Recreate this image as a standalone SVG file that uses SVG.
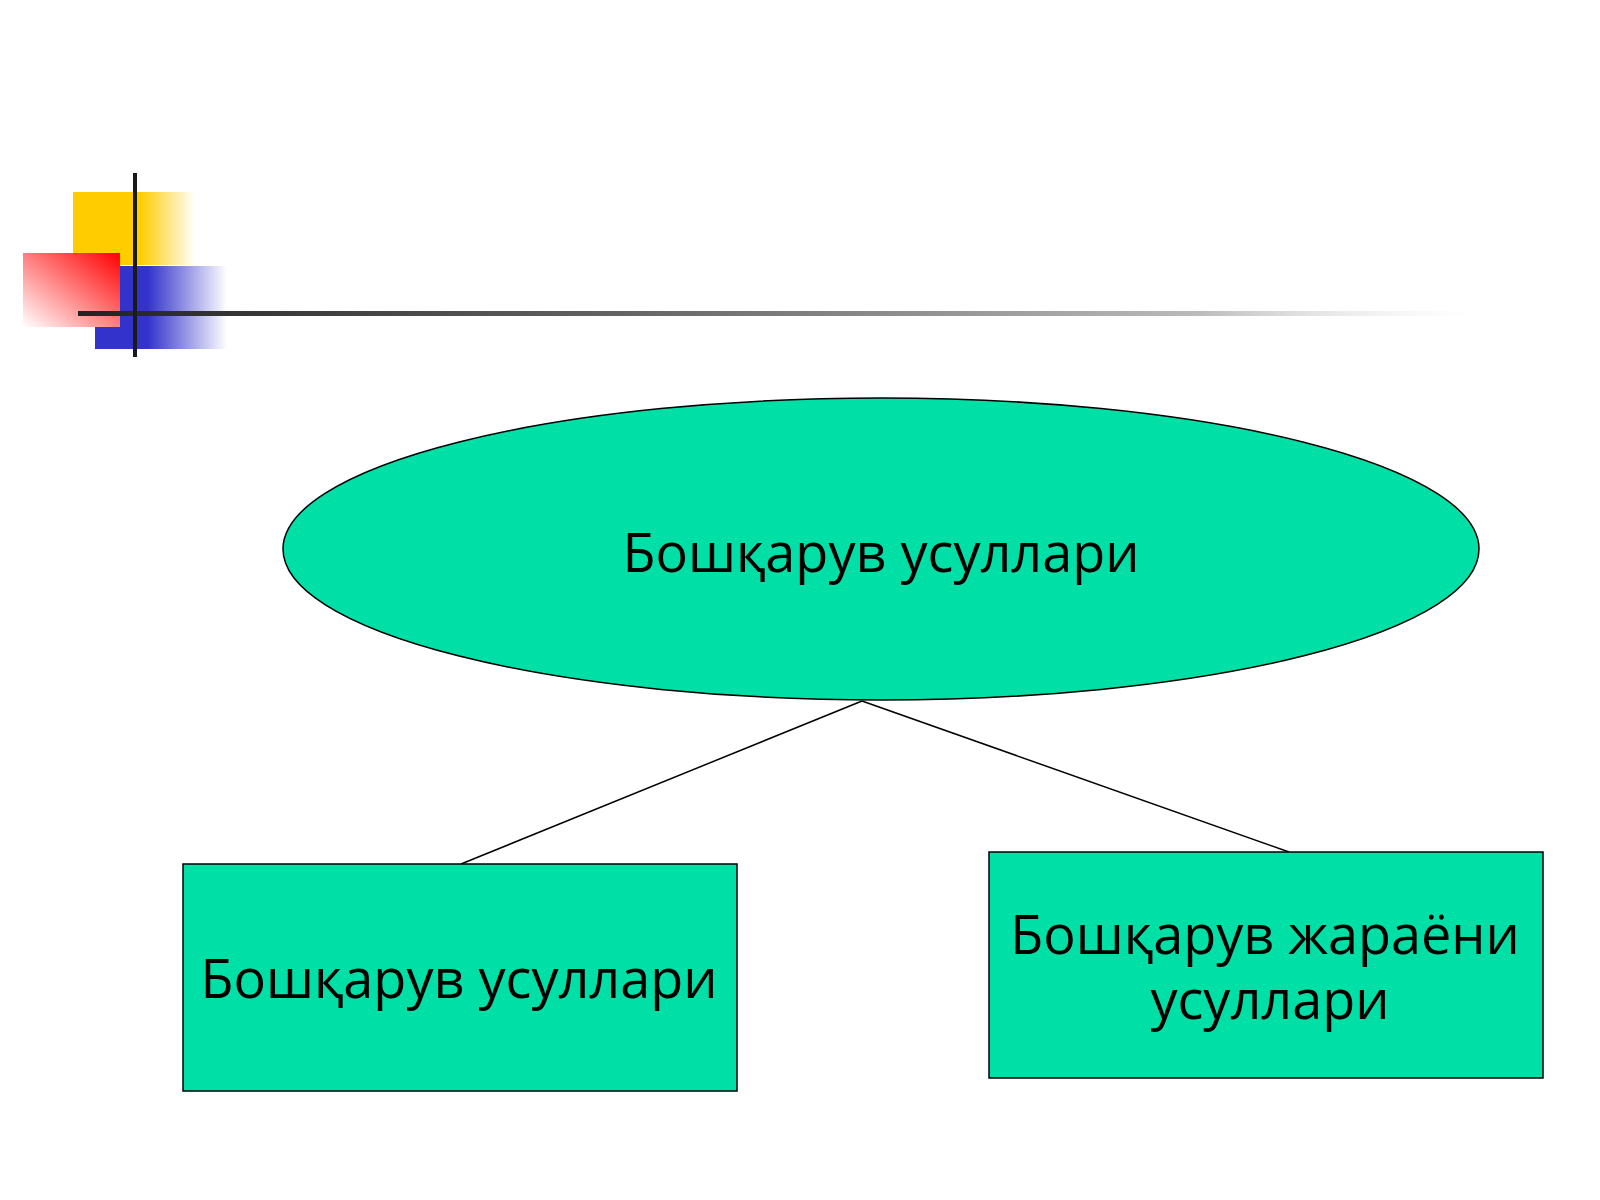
<svg xmlns="http://www.w3.org/2000/svg" width="1600" height="1200" viewBox="0 0 1600 1200">
<style>
.shape{fill:#00E0A6;stroke:#000;stroke-width:1.5}
.lbl{font-family:"Open Sans","Noto Sans","DejaVu Sans",sans-serif;font-size:54px;fill:#000}
.conn{stroke:#000;stroke-width:1.5;fill:none}
</style>
<defs>
<linearGradient id="gY" x1="0" y1="0" x2="1" y2="0">
<stop offset="0" stop-color="#FFCC00"/><stop offset="0.55" stop-color="#FFCC00"/><stop offset="1" stop-color="#FFCC00" stop-opacity="0"/>
</linearGradient>
<linearGradient id="gR" x1="1" y1="0" x2="0" y2="1">
<stop offset="0" stop-color="#FF0000"/><stop offset="1" stop-color="#FFFFFF"/>
</linearGradient>
<linearGradient id="gB" x1="0" y1="0" x2="1" y2="0">
<stop offset="0" stop-color="#3333CC"/><stop offset="0.4" stop-color="#3333CC"/><stop offset="1" stop-color="#3333CC" stop-opacity="0"/>
</linearGradient>
<linearGradient id="gL" x1="0" y1="0" x2="1" y2="0">
<stop offset="0" stop-color="#222"/><stop offset="0.4" stop-color="#666"/><stop offset="0.8" stop-color="#bbb"/><stop offset="1" stop-color="#eee" stop-opacity="0"/>
</linearGradient>
</defs>
<rect width="1600" height="1200" fill="#fff"/>
<g id="decoration">
<rect x="73" y="192" width="122" height="73" fill="url(#gY)"/>
<rect x="95" y="266" width="132" height="83" fill="url(#gB)"/>
<rect x="23" y="253" width="97" height="74" fill="url(#gR)"/>
<rect x="78" y="311" width="1400" height="5" fill="url(#gL)"/>
<rect x="133" y="173" width="4" height="184" fill="#1a1a1a"/>
</g>
<g id="connectors">
<line class="conn" x1="862" y1="701" x2="461" y2="864"/>
<line class="conn" x1="862" y1="701" x2="1289" y2="852"/>
</g>
<g id="root">
<ellipse class="shape" cx="881" cy="549" rx="598" ry="151"/>
<text class="lbl" x="881" y="572" text-anchor="middle">Бошқарув усуллари</text>
</g>
<g id="left">
<rect class="shape" x="183" y="864" width="554" height="227"/>
<text class="lbl" x="459" y="998" text-anchor="middle">Бошқарув усуллари</text>
</g>
<g id="right">
<rect class="shape" x="989" y="852" width="554" height="226"/>
<text class="lbl" x="1265" y="954" text-anchor="middle">Бошқарув жараёни</text>
<text class="lbl" x="1270" y="1019" text-anchor="middle">усуллари</text>
</g>
</svg>
